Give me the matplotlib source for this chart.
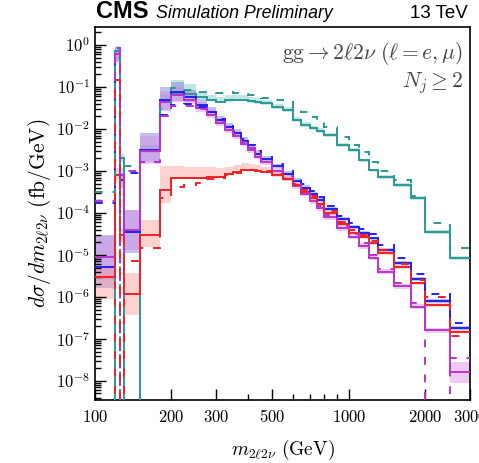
import numpy as np
import matplotlib
matplotlib.use("Agg")
import matplotlib.pyplot as plt
from matplotlib.ticker import FixedLocator, FuncFormatter, LogLocator, NullFormatter

plt.rcParams['mathtext.fontset'] = 'cm'
plt.rcParams['font.family'] = ['DejaVu Sans']

Z = 1e-12  # empty bin

edges = [100, 120, 125, 130, 150, 180, 200, 225, 250, 275, 300, 325, 350, 375, 400, 425, 450,
         500, 550, 600, 650, 700, 750, 800, 900, 1000, 1100, 1200, 1300, 1500, 1750, 2000, 2500, 3000]

teal = [Z, 0.72, 2e-3, Z, 3.2e-3, 0.05, 0.072, 0.07, 0.058, 0.05, 0.045, 0.049, 0.05, 0.05, 0.046, 0.044,
        0.042, 0.033, 0.028, 0.0164, 0.0125, 0.0105, 0.009, 0.0072, 0.0042, 0.0032, 0.0018, 0.00104,
        7.2e-4, 4.6e-4, 2.3e-4, 3.5e-5, 8.4e-6]
teal_dash = [3.2e-4, 0.5, Z, 1.3e-3, 1.6e-3, 0.03, 0.094, 0.085, 0.078, 0.075, 0.074, 0.075, 0.073, 0.07,
             0.065, 0.06, 0.055, 0.05, 0.044, 0.032, 0.025, 0.019, 0.015, 0.011, 0.0065, 0.0042, 0.0028,
             0.0016, 0.001, 6e-4, 2.6e-4, 5.7e-5, 1.5e-5]
teal_up = [1, 1.3, 1.3, 1, 1.3, 1.4, 2.0, 1.7, 1.35, 1.3, 1.3, 1.3, 1.3, 1.3, 1.25, 1.25, 1.2, 1.2, 1.2,
           1.15, 1.15, 1.15, 1.15, 1.12, 1.12, 1.12, 1.1, 1.1, 1.1, 1.1, 1.1, 1.1, 1.1]
teal_dn = [1, 1.2, 1.2, 1, 1.2, 1.2, 1.2, 1.15, 1.1, 1.1, 1.1, 1.1, 1.1, 1.1, 1.1, 1.1, 1.1, 1.1, 1.1,
           1.1, 1.1, 1.1, 1.1, 1.1, 1.1, 1.1, 1.1, 1.1, 1.1, 1.1, 1.1, 1.1, 1.1]

blue = [5.2e-6, 0.6, 6e-4, 3.5e-5, 3.2e-3, 0.05, 0.076, 0.057, 0.038, 0.026, 0.016, 0.011, 0.008, 0.0052,
        0.0036, 0.0026, 0.0019, 0.0013, 8.5e-4, 5.8e-4, 4.0e-4, 2.8e-4, 2.0e-4, 1.25e-4, 7.0e-5, 4.6e-5,
        3.4e-5, 2.5e-5, 1.3e-5, 6.4e-6, 2.7e-6, 8.1e-7, 1.8e-7]
blue_dash = [1.7e-4, 0.5, Z, 9e-4, 1.6e-3, 0.022, 0.037, 0.04, 0.033, 0.025, 0.017, 0.012, 0.009, 0.0058,
             0.0041, 0.003, 0.0022, 0.0015, 1.0e-3, 7e-4, 4.8e-4, 3.4e-4, 2.4e-4, 1.5e-4, 8.5e-5, 5.8e-5,
             4.2e-5, 3.1e-5, 1.7e-5, 8.5e-6, 3.6e-6, 1.2e-6, 2.4e-7]
blue_up = [5.8, 1.5, 1.5, 3.4, 2.5, 2.0, 1.7, 1.5, 1.35, 1.3, 1.3, 1.3, 1.25, 1.25, 1.2, 1.2, 1.2, 1.15,
           1.15, 1.15, 1.15, 1.15, 1.15, 1.12, 1.12, 1.12, 1.12, 1.1, 1.1, 1.1, 1.1, 1.1, 1.1]
blue_dn = [3.2, 1.5, 1.5, 3.2, 2.0, 1.8, 1.6, 1.3, 1.25, 1.2, 1.2, 1.2, 1.2, 1.15, 1.15, 1.15, 1.15, 1.12,
           1.12, 1.12, 1.12, 1.12, 1.1, 1.1, 1.1, 1.1, 1.1, 1.1, 1.1, 1.1, 1.1, 1.1, 1.1]

mag = [8.9e-6, 0.6, 8e-4, 4e-5, 3e-3, 0.045, 0.065, 0.05, 0.032, 0.022, 0.014, 0.0095, 0.007, 0.0045,
       0.0031, 0.0022, 0.0016, 1.0e-3, 6.5e-4, 4.3e-4, 2.9e-4, 1.9e-4, 1.3e-4, 8.0e-5, 4.3e-5, 2.7e-5,
       1.6e-5, 8.6e-6, 4.0e-6, 1.8e-6, 5.8e-7, 1.6e-7, 1.6e-8]
mag_dash = [1.9e-4, 0.85, Z, 1e-3, 1.6e-3, 0.02, 0.035, 0.036, 0.03, 0.022, 0.015, 0.0105, 0.0078, 0.005,
            0.0035, 0.0025, 0.0018, 1.15e-3, 7.5e-4, 4.9e-4, 3.3e-4, 2.2e-4, 1.5e-4, 9.2e-5, 5.0e-5, 3.1e-5,
            1.9e-5, 1.0e-5, 4.6e-6, 2.1e-6, 7e-7, Z, 3.5e-8]
mag_up = [3.2, 1.5, 1.5, 3.0, 2.3, 1.8, 1.6, 1.5, 1.4, 1.35, 1.3, 1.3, 1.3, 1.25, 1.25, 1.2, 1.2, 1.2, 1.2,
          1.2, 1.2, 1.2, 1.2, 1.2, 1.2, 1.2, 1.2, 1.2, 1.15, 1.15, 1.15, 1.15, 1.75]
mag_dn = [3.5, 1.5, 1.5, 3.0, 2.0, 1.7, 1.5, 1.3, 1.25, 1.2, 1.2, 1.2, 1.2, 1.15, 1.15, 1.15, 1.15, 1.15,
          1.15, 1.15, 1.15, 1.15, 1.15, 1.15, 1.15, 1.15, 1.15, 1.15, 1.15, 1.15, 1.15, 1.15, 1.8]

red = [3.0e-6, 8e-4, 3e-5, 1.2e-6, 3.0e-5, 3.5e-4, 6.8e-4, 6.8e-4, 6.9e-4, 7.2e-4, 7.4e-4, 8.5e-4, 9.5e-4,
       1.05e-3, 1.05e-3, 1.02e-3, 9.5e-4, 8.0e-4, 6.5e-4, 4.6e-4, 3.2e-4, 2.3e-4, 1.6e-4, 1.0e-4, 5.5e-5,
       3.4e-5, 2.7e-5, 1.9e-5, 1.1e-5, 5.2e-6, 2.1e-6, 6.5e-7, 1.5e-7]
red_dash = [Z, 0.15, Z, 7e-6, 1.5e-5, 2.3e-4, 4.1e-4, 4.6e-4, 5.1e-4, 6.5e-4, 7.0e-4, 8.0e-4, 9.0e-4, 1.0e-3,
            1.05e-3, 1.05e-3, 1.0e-3, 8.5e-4, 7.0e-4, 5.0e-4, 3.5e-4, 2.5e-4, 1.8e-4, 1.1e-4, 6.2e-5, 3.9e-5,
            3.0e-5, 2.2e-5, 1.3e-5, 6.2e-6, 2.6e-6, 1.0e-6, 1.2e-7]
red_up = [1.7, 1.5, 1.5, 3.1, 2.3, 3.7, 1.9, 1.85, 1.8, 1.7, 1.6, 1.5, 1.5, 1.45, 1.4, 1.35, 1.3, 1.2, 1.2,
          1.15, 1.15, 1.15, 1.15, 1.12, 1.12, 1.12, 1.1, 1.1, 1.1, 1.1, 1.1, 1.1, 1.1]
red_dn = [3.3, 1.5, 1.5, 3.2, 1.9, 2.0, 1.05, 1.05, 1.05, 1.05, 1.05, 1.05, 1.05, 1.05, 1.05, 1.05, 1.05,
          1.1, 1.1, 1.1, 1.1, 1.1, 1.1, 1.1, 1.1, 1.1, 1.1, 1.1, 1.1, 1.1, 1.1, 1.1, 1.1]

xticks = [100, 200, 300, 500, 1000, 2000, 3000]
xminor = [400, 600, 700, 800, 900]

series = [
    (teal, teal_dash, teal_up, teal_dn, '#2a9a94', '#7cc9c2'),
    (blue, blue_dash, blue_up, blue_dn, '#2222ee', '#7777dd'),
    (mag, mag_dash, mag_up, mag_dn, '#bb33cc', '#d88ae0'),
    (red, red_dash, red_up, red_dn, '#ee2222', '#ff9a9a'),
]

fig = plt.figure(figsize=(4.79, 4.63), dpi=100)
ax = fig.add_axes([95 / 479, 63 / 463, 375 / 479, 373 / 463])
ax.set_xscale('log')
ax.set_yscale('log')

for v, d, up, dn, c, bc in series:
    v = np.array(v)
    hi = v * np.array(up)
    lo = v / np.array(dn)
    ax.stairs(hi, edges, baseline=lo, fill=True, color=bc, alpha=0.45, lw=0, zorder=1)
for v, d, up, dn, c, bc in series:
    ax.stairs(v, edges, baseline=None, color=c, lw=1.4, zorder=3)
for v, d, up, dn, c, bc in series:
    ax.stairs(d, edges, baseline=None, color=c, lw=1.4, linestyle=(0, (4, 5)), zorder=4)

ax.set_xlim(100, 3000)
ax.set_ylim(3.5e-9, 2.7)


def yfmt(y, p):
    e = int(round(np.log10(y)))
    return r'$10^{%d}$' % e


ax.xaxis.set_major_locator(FixedLocator(xticks))
ax.xaxis.set_minor_locator(FixedLocator(xminor))
ax.xaxis.set_major_formatter(FuncFormatter(lambda x, p: r'$%d$' % x))
ax.xaxis.set_minor_formatter(NullFormatter())
ax.yaxis.set_major_locator(LogLocator(base=10, numticks=20))
ax.yaxis.set_minor_locator(LogLocator(base=10, subs=np.arange(2, 10), numticks=20))
ax.yaxis.set_major_formatter(FuncFormatter(yfmt))
ax.yaxis.set_minor_formatter(NullFormatter())
ax.tick_params(which='both', direction='in', top=False, right=False, labelsize=12, width=1.0)
ax.tick_params(axis='x', which='major', pad=6)
ax.tick_params(which='major', length=8)
ax.tick_params(which='minor', length=4)
for s in ax.spines.values():
    s.set_linewidth(1.2)

ax.set_xlabel(r'$m_{2\ell 2\nu}\ (\mathrm{GeV})$', fontsize=14, labelpad=8)
ax.set_ylabel(r'$d\sigma/dm_{2\ell 2\nu}\ (\mathrm{fb/GeV})$', fontsize=15.5, labelpad=2)

fig.text(96 / 479, 1 - 18 / 463, 'CMS', fontsize=17, fontweight='bold', ha='left', va='baseline',
         family='Liberation Sans')
fig.text(156 / 479, 1 - 18 / 463, 'Simulation Preliminary', fontsize=12.8, style='italic', ha='left',
         va='baseline', family='Liberation Sans')
fig.text(468 / 479, 1 - 18 / 463, '13 TeV', fontsize=13.5, ha='right', va='baseline', family='Liberation Sans')

ax.text(0.98, 0.965, r'$\mathrm{gg} \rightarrow 2\ell 2\nu\ (\ell = e, \mu)$', transform=ax.transAxes,
        ha='right', va='top', fontsize=15.5, color='#444444')
ax.text(0.98, 0.885, r'$N_j \geq 2$', transform=ax.transAxes, ha='right', va='top', fontsize=15.5,
        color='#444444')

fig.savefig('out.png', dpi=100)
